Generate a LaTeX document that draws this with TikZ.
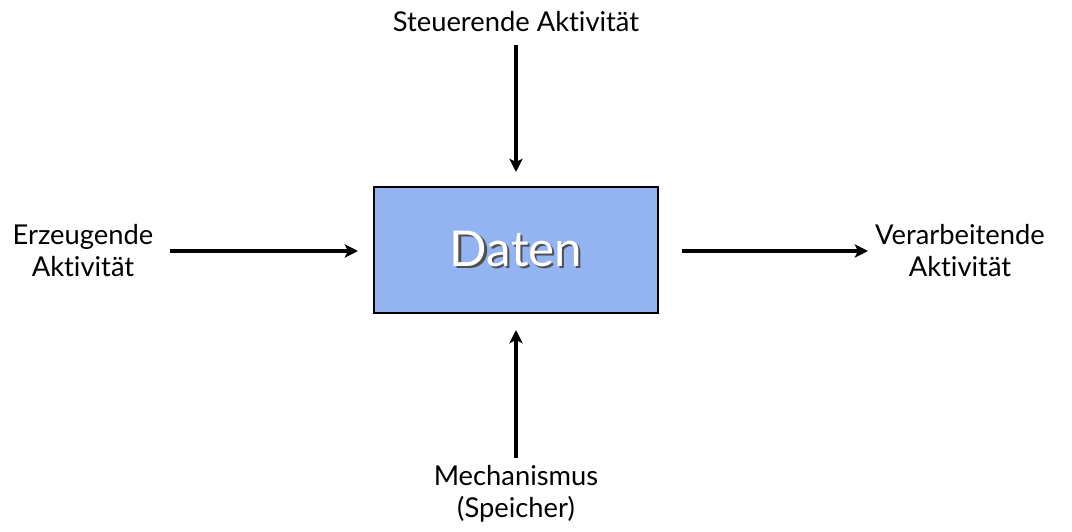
\documentclass[tikz,border=0pt]{standalone}
\usepackage{fontspec}
\setmainfont{Lato}[Ligatures=CommonOff]
\usetikzlibrary{arrows.meta}
\definecolor{boxblue}{HTML}{93B4F0}
\definecolor{shadowgray}{HTML}{505050}
\begin{document}
\begin{tikzpicture}[x=0.75pt,y=-0.75pt,
  lbl/.style={font=\fontsize{20.5}{24}\selectfont, align=center, inner sep=0pt},
  conn/.style={line width=2.6pt, -{Stealth[length=10pt,width=10pt,inset=2.5pt]}}]
\useasboundingbox (0,0) rectangle (1072,532);
\node[draw=black, line width=1.7pt, fill=boxblue, minimum width=284*0.75pt, minimum height=126*0.75pt, inner sep=0pt,
  font=\fontsize{37}{40}\selectfont] (box) at (516,250)
  {\rlap{\kern1.6pt\raisebox{-1.6pt}{\textcolor{shadowgray}{Daten}}}\textcolor{white}{Daten}};
\node[lbl] (top) at (516,22) {Steuerende Aktivität};
\node[lbl] (left) at (83,251) {Erzeugende\\Aktivität};
\node[lbl] (right) at (960,251) {Verarbeitende\\Aktivität};
\node[lbl] (bot) at (516,494) {Mechanismus\\(Speicher)};
\coordinate (ts) at (516,45);
\coordinate (te) at (516,172);
\coordinate (ls) at (170,251);
\coordinate (le) at (358,251);
\coordinate (rs) at (682,251);
\coordinate (re) at (868,251);
\coordinate (bs) at (516,458);
\coordinate (be) at (516,330);
\draw[conn] (ts) -- (te);
\draw[conn] (ls) -- (le);
\draw[conn] (rs) -- (re);
\draw[conn] (bs) -- (be);
\end{tikzpicture}
\end{document}
